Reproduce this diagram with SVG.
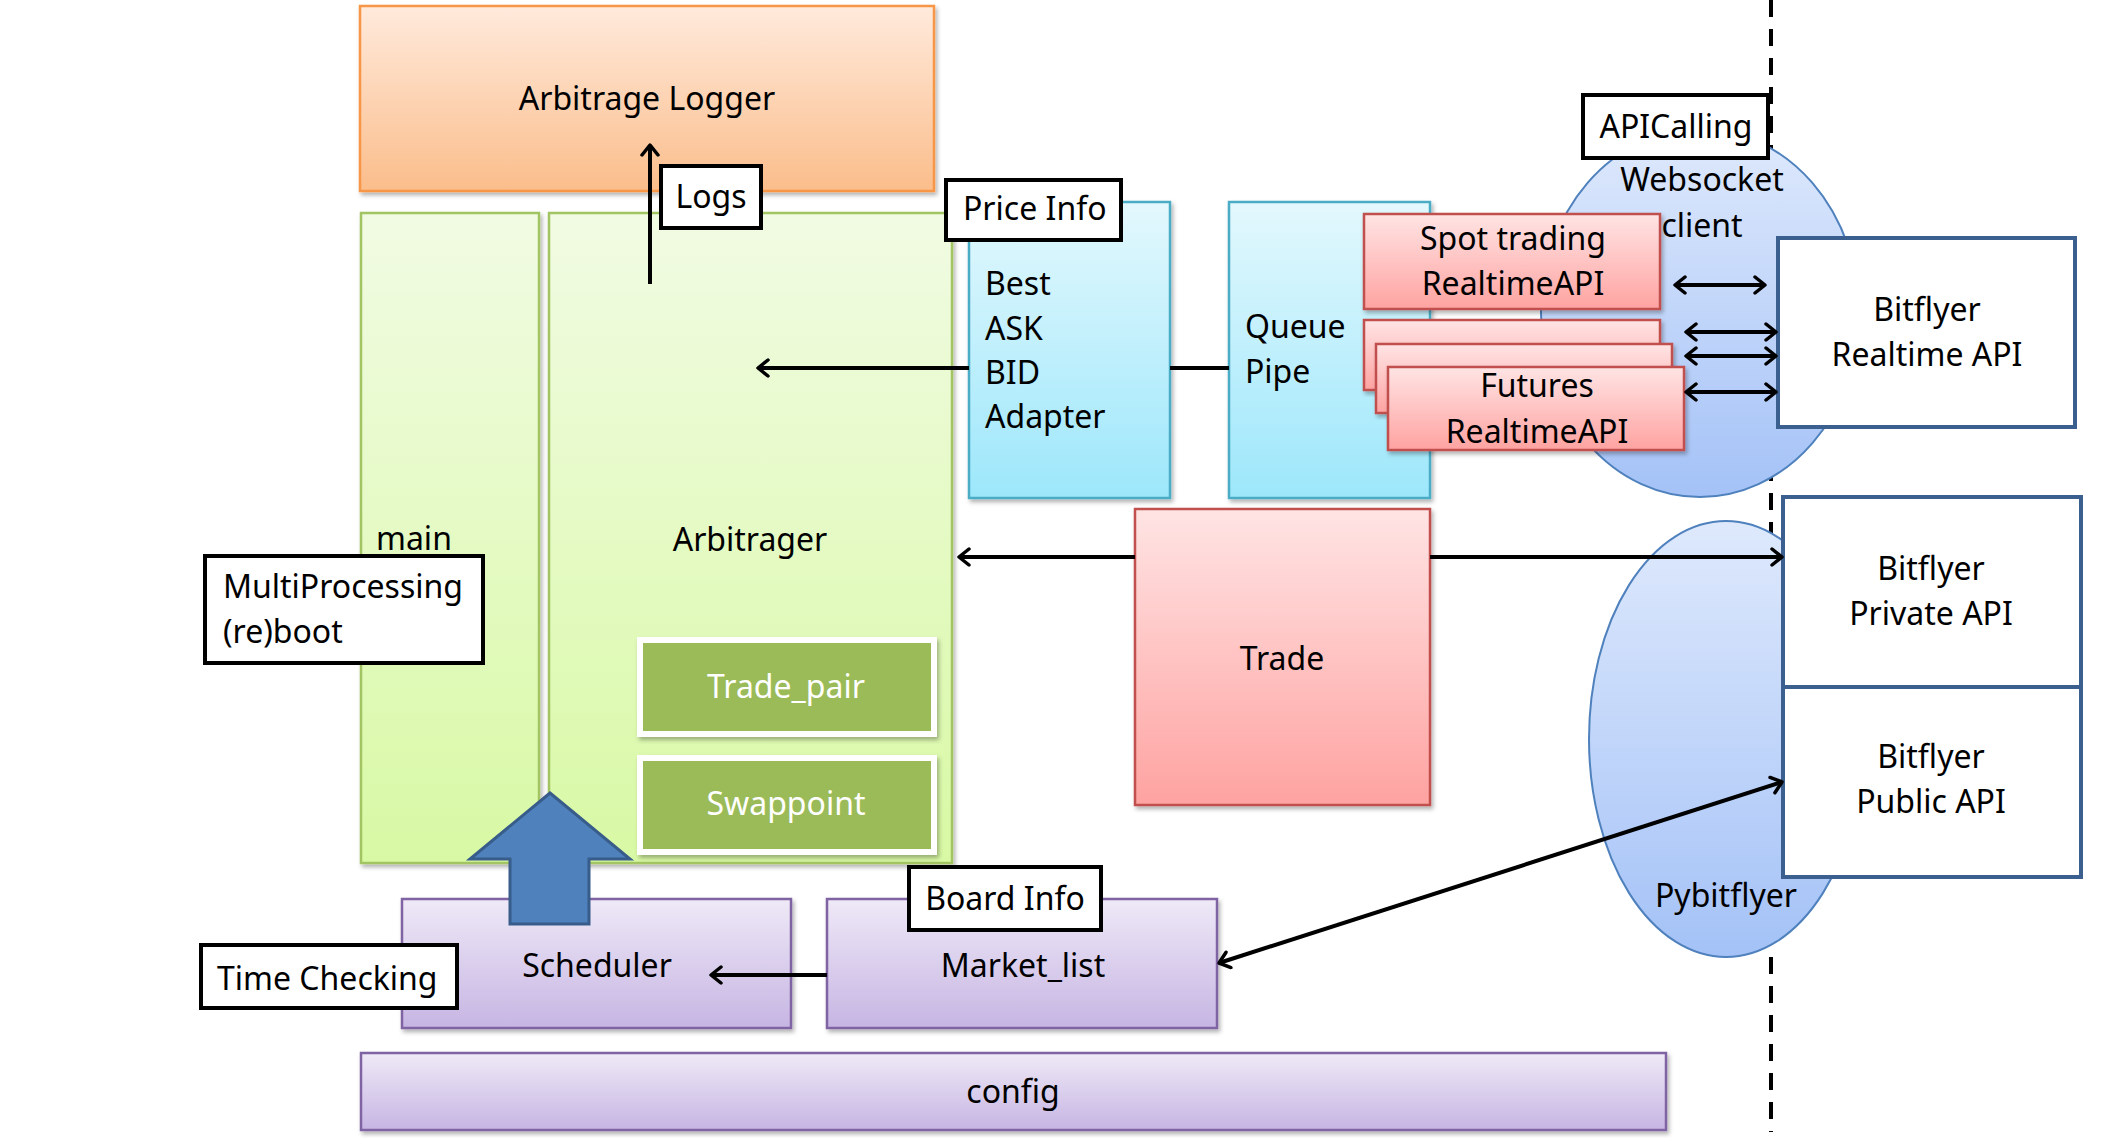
<svg xmlns="http://www.w3.org/2000/svg" width="2128" height="1143" viewBox="0 0 2128 1143">
<defs>
<linearGradient id="gOrange" x1="0" y1="0" x2="0" y2="1"><stop offset="0" stop-color="#FFEADC"/><stop offset="1" stop-color="#FBBD8B"/></linearGradient>
<linearGradient id="gGreen" x1="0" y1="0" x2="0" y2="1"><stop offset="0" stop-color="#F1FBE3"/><stop offset="1" stop-color="#D8F9A4"/></linearGradient>
<linearGradient id="gCyan" x1="0" y1="0" x2="0" y2="1"><stop offset="0" stop-color="#E3F8FD"/><stop offset="1" stop-color="#9DE7FB"/></linearGradient>
<linearGradient id="gRed" x1="0" y1="0" x2="0" y2="1"><stop offset="0" stop-color="#FFE4E4"/><stop offset="1" stop-color="#FEA3A1"/></linearGradient>
<linearGradient id="gPurple" x1="0" y1="0" x2="0" y2="1"><stop offset="0" stop-color="#EFE9F7"/><stop offset="1" stop-color="#C6B5E3"/></linearGradient>
<linearGradient id="gBlue" x1="0" y1="0" x2="0" y2="1"><stop offset="0" stop-color="#DEE9FC"/><stop offset="1" stop-color="#A4C2F7"/></linearGradient>
<filter id="sh" x="-10%" y="-10%" width="120%" height="120%"><feDropShadow dx="2" dy="3" stdDeviation="2" flood-color="#000" flood-opacity="0.3"/></filter>
<marker id="ah" viewBox="0 0 20 20" refX="17" refY="10" markerWidth="20" markerHeight="20" markerUnits="userSpaceOnUse" orient="auto-start-reverse">
<path d="M7,2 L17,10 L7,18" fill="none" stroke="#000" stroke-width="3.5" stroke-linecap="round" stroke-linejoin="round"/>
</marker>
<style>
text{font-family:"Noto Sans","Open Sans","DejaVu Sans",sans-serif;font-size:32px;fill:#000}
.c{text-anchor:middle}
.w{fill:#fff}
.orange{fill:url(#gOrange);stroke:#F79646;stroke-width:2.5}
.green{fill:url(#gGreen);stroke:#A2C462;stroke-width:2.5}
.cyan{fill:url(#gCyan);stroke:#4BACC6;stroke-width:2.5}
.red{fill:url(#gRed);stroke:#C0504D;stroke-width:2.5}
.purple{fill:url(#gPurple);stroke:#8064A2;stroke-width:2.5}
.ell{fill:url(#gBlue);stroke:#4F81BD;stroke-width:2}
.api{fill:#fff;stroke:#3B5F8E;stroke-width:4}
.olive{fill:#9BBB59;stroke:#fff;stroke-width:6}
.lbl{fill:#fff;stroke:#000;stroke-width:4}
.conn{stroke:#000;stroke-width:4;fill:none}
</style>
</defs>
<rect width="2128" height="1143" fill="#fff"/>

<line x1="1771" y1="0" x2="1771" y2="1132" stroke="#000" stroke-width="4" stroke-dasharray="17 12"/>

<g id="logger"><rect class="orange" x="360" y="6" width="574" height="185" filter="url(#sh)"/><text class="c" x="647" y="110">Arbitrage Logger</text></g>
<g id="main"><rect class="green" x="361" y="213" width="178" height="650" filter="url(#sh)"/><text x="376" y="550">main</text></g>
<g id="arbitrager"><rect class="green" x="549" y="213" width="403" height="650" filter="url(#sh)"/><text class="c" x="750" y="551">Arbitrager</text></g>
<g id="trade_pair"><rect class="olive" x="640" y="640" width="294" height="94" filter="url(#sh)"/><text class="c w" x="786" y="698">Trade_pair</text></g>
<g id="swappoint"><rect class="olive" x="640" y="758" width="294" height="94" filter="url(#sh)"/><text class="c w" x="786" y="815">Swappoint</text></g>
<g id="adapter"><rect class="cyan" x="969" y="202" width="201" height="296" filter="url(#sh)"/><text x="985" y="295">Best</text><text x="985" y="340">ASK</text><text x="985" y="384">BID</text><text x="985" y="428">Adapter</text></g>
<g id="queue"><rect class="cyan" x="1229" y="202" width="201" height="296" filter="url(#sh)"/><text x="1245" y="338">Queue</text><text x="1245" y="383">Pipe</text></g>
<g id="websocket"><ellipse class="ell" cx="1700" cy="313" rx="159" ry="184"/><text class="c" x="1702" y="191">Websocket</text><text class="c" x="1702" y="237">client</text></g>
<g id="spot"><rect class="red" x="1364" y="214" width="296" height="95" filter="url(#sh)"/><text class="c" x="1513" y="250">Spot trading</text><text class="c" x="1513" y="295">RealtimeAPI</text></g>
<g id="realtime2"><rect class="red" x="1364" y="320" width="296" height="70" filter="url(#sh)"/></g>
<g id="realtime3"><rect class="red" x="1376" y="344" width="296" height="69" filter="url(#sh)"/></g>
<g id="futures"><rect class="red" x="1388" y="367" width="296" height="83" filter="url(#sh)"/><text class="c" x="1537" y="397">Futures</text><text class="c" x="1537" y="443">RealtimeAPI</text></g>
<g id="bitflyer_rt"><rect class="api" x="1778" y="238" width="297" height="189"/><text class="c" x="1927" y="321">Bitflyer</text><text class="c" x="1927" y="366">Realtime API</text></g>
<g id="pybitflyer"><ellipse class="ell" cx="1726" cy="739" rx="137" ry="218"/><text class="c" x="1726" y="907">Pybitflyer</text></g>
<g id="private_api"><rect class="api" x="1783" y="497" width="298" height="190"/><text class="c" x="1931" y="580">Bitflyer</text><text class="c" x="1931" y="625">Private API</text></g>
<g id="public_api"><rect class="api" x="1783" y="687" width="298" height="190"/><text class="c" x="1931" y="768">Bitflyer</text><text class="c" x="1931" y="813">Public API</text></g>
<g id="trade"><rect class="red" x="1135" y="509" width="295" height="296" filter="url(#sh)"/><text class="c" x="1282" y="670">Trade</text></g>
<g id="scheduler"><rect class="purple" x="402" y="899" width="389" height="129" filter="url(#sh)"/><text class="c" x="597" y="977">Scheduler</text></g>
<g id="market_list"><rect class="purple" x="827" y="899" width="390" height="129" filter="url(#sh)"/><text class="c" x="1023" y="977">Market_list</text></g>
<g id="config"><rect class="purple" x="361" y="1053" width="1305" height="77" filter="url(#sh)"/><text class="c" x="1013" y="1103">config</text></g>
<g id="boot_arrow"><polygon points="550,793 630,859 589,859 589,924 510,924 510,859 470,859" fill="#4F81BD" stroke="#385D8A" stroke-width="3"/></g>

<g id="connectors">
<line class="conn" x1="650" y1="284" x2="650" y2="145" marker-end="url(#ah)"/>
<line class="conn" x1="969" y1="368" x2="758" y2="368" marker-end="url(#ah)"/>
<line class="conn" x1="1170" y1="368" x2="1229" y2="368"/>
<line class="conn" x1="1135" y1="557" x2="959" y2="557" marker-end="url(#ah)"/>
<line class="conn" x1="1430" y1="557" x2="1782" y2="557" marker-end="url(#ah)"/>
<line class="conn" x1="1675" y1="285" x2="1765" y2="285" marker-start="url(#ah)" marker-end="url(#ah)"/>
<line class="conn" x1="1686" y1="332" x2="1776" y2="332" marker-start="url(#ah)" marker-end="url(#ah)"/>
<line class="conn" x1="1686" y1="356" x2="1776" y2="356" marker-start="url(#ah)" marker-end="url(#ah)"/>
<line class="conn" x1="1686" y1="392" x2="1776" y2="392" marker-start="url(#ah)" marker-end="url(#ah)"/>
<line class="conn" x1="827" y1="975" x2="711" y2="975" marker-end="url(#ah)"/>
<line class="conn" x1="1219" y1="963" x2="1782" y2="782" marker-start="url(#ah)" marker-end="url(#ah)"/>
</g>

<g id="lbl_logs"><rect class="lbl" x="661" y="166" width="100" height="62"/><text class="c" x="711" y="208">Logs</text></g>
<g id="lbl_price"><rect class="lbl" x="946" y="180" width="175" height="60"/><text x="963" y="220">Price Info</text></g>
<g id="lbl_api"><rect class="lbl" x="1583" y="95" width="185" height="63"/><text class="c" x="1676" y="138">APICalling</text></g>
<g id="lbl_multi"><rect class="lbl" x="205" y="556" width="278" height="107"/><text x="223" y="598">MultiProcessing</text><text x="223" y="643">(re)boot</text></g>
<g id="lbl_time"><rect class="lbl" x="201" y="945" width="256" height="63"/><text x="217" y="990">Time Checking</text></g>
<g id="lbl_board"><rect class="lbl" x="909" y="867" width="192" height="63"/><text class="c" x="1005" y="910">Board Info</text></g>
</svg>
